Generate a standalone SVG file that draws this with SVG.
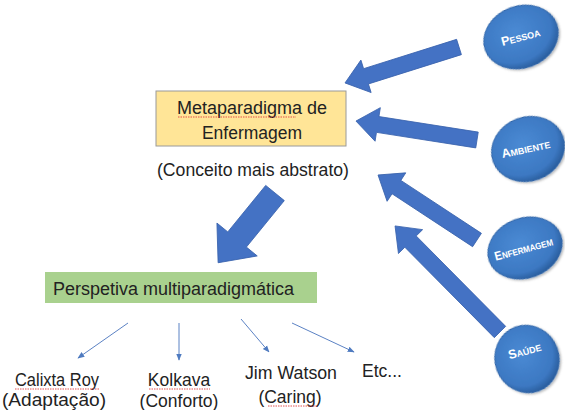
<svg xmlns="http://www.w3.org/2000/svg" width="565" height="410" viewBox="0 0 565 410">
<defs>
<radialGradient id="eg" cx="45%" cy="40%" r="60%">
<stop offset="0" stop-color="#4A8AD4"/>
<stop offset="0.8" stop-color="#3C78C2"/>
<stop offset="1" stop-color="#2A5E9E"/>
</radialGradient>
<marker id="ah" viewBox="0 0 10 10" refX="9" refY="5" markerWidth="7" markerHeight="7" orient="auto" markerUnits="userSpaceOnUse">
<path d="M0,1 L10,5 L0,9 Z" fill="#4F7BC0"/>
</marker>
<filter id="sh" x="-20%" y="-20%" width="140%" height="140%">
<feDropShadow dx="1" dy="1.5" stdDeviation="1.2" flood-color="#000" flood-opacity="0.3"/>
</filter>
</defs>
<style>
text{font-family:"Liberation Sans",Arial,sans-serif;fill:#222}
.t{font-size:17.5px}
.big{fill:#4472C4;stroke:#3A63AD;stroke-width:0.8}
.thin{stroke:#5B82C4;stroke-width:1;fill:none;marker-end:url(#ah)}
.ell{fill:url(#eg);stroke:#2E64A8;stroke-width:1;filter:url(#sh)}
.et{fill:#fff;font-weight:bold;font-size:9px}
.et tspan.c{font-size:12.5px}
.sp{stroke:#E04040;stroke-width:0.9;fill:none;stroke-dasharray:1.5 1}
</style>

<g id="connectors">
<path class="big" d="M0,-8 L97.5,-8 L97.5,-17 L119.5,0 L97.5,17 L97.5,8 L0,8Z" transform="translate(459,47) rotate(162.5)"/>
<path class="big" d="M0,-8 L100.5,-8 L100.5,-17 L122.5,0 L100.5,17 L100.5,8 L0,8Z" transform="translate(477,140) rotate(-171.1)"/>
<path class="big" d="M0,-8 L96.4,-8 L96.4,-17 L118.4,0 L96.4,17 L96.4,8 L0,8Z" transform="translate(477,240) rotate(-146.7)"/>
<path class="big" d="M0,-8 L127.2,-8 L127.2,-17 L149.2,0 L127.2,17 L127.2,8 L0,8Z" transform="translate(500,332) rotate(-134.7)"/>
<path class="big" d="M0,-12 L60,-12 L60,-26 L90,0 L60,26 L60,12 L0,12Z" transform="translate(275,193) rotate(129.2)"/>
<line class="thin" x1="128" y1="323" x2="78" y2="358"/>
<line class="thin" x1="179" y1="323" x2="179" y2="360"/>
<line class="thin" x1="241" y1="319" x2="269" y2="352"/>
<line class="thin" x1="292" y1="323" x2="354" y2="352"/>
</g>

<g id="metaparadigma">
<rect x="156" y="91" width="190" height="55" fill="#FFE597" stroke="#9A9A9A" stroke-width="1"/>
<text class="t" x="252" y="114" text-anchor="middle" textLength="150" lengthAdjust="spacingAndGlyphs">Metaparadigma de</text>
<text class="t" x="252" y="139" text-anchor="middle">Enfermagem</text>
<path class="sp" d="M178,117 L296,117"/>
</g>

<g id="conceito">
<text class="t" x="253" y="176" text-anchor="middle" textLength="192" lengthAdjust="spacingAndGlyphs">(Conceito mais abstrato)</text>
</g>

<g id="perspetiva">
<rect x="45" y="272" width="272" height="31" fill="#A9D18E"/>
<text class="t" x="53" y="295" textLength="241" lengthAdjust="spacingAndGlyphs">Perspetiva multiparadigmática</text>
</g>

<g id="calixta">
<text class="t" x="57" y="386" text-anchor="middle" textLength="84" lengthAdjust="spacingAndGlyphs">Calixta Roy</text>
<text class="t" x="54" y="406" text-anchor="middle" textLength="104" lengthAdjust="spacingAndGlyphs">(Adaptação)</text>
<path class="sp" d="M15,389 L99,389"/>
</g>

<g id="kolkava">
<text class="t" x="179" y="386" text-anchor="middle">Kolkava</text>
<text class="t" x="179" y="407" text-anchor="middle">(Conforto)</text>
<path class="sp" d="M149,389 L210,389"/>
</g>

<g id="watson">
<text class="t" x="291" y="379" text-anchor="middle" textLength="92" lengthAdjust="spacingAndGlyphs">Jim Watson</text>
<text class="t" x="290" y="403" text-anchor="middle">(Caring)</text>
<path class="sp" d="M268,406 L318,406"/>
</g>

<g id="etc">
<text class="t" x="362" y="377">Etc...</text>
</g>

<g id="pessoa">
<ellipse class="ell" cx="521" cy="37" rx="38" ry="31" transform="rotate(-20 521 37)"/>
<text class="et" x="521" y="41" text-anchor="middle" transform="rotate(-15 521 38)"><tspan class="c">P</tspan>ESSOA</text>
</g>

<g id="ambiente">
<ellipse class="ell" cx="528" cy="149" rx="37" ry="32" transform="rotate(-20 528 149)"/>
<text class="et" x="526" y="153" text-anchor="middle" transform="rotate(-12 526 150)"><tspan class="c">A</tspan>MBIENTE</text>
</g>

<g id="enfermagem">
<ellipse class="ell" cx="525" cy="248" rx="38" ry="30" transform="rotate(-20 525 248)"/>
<text class="et" x="524" y="253" text-anchor="middle" textLength="60" lengthAdjust="spacingAndGlyphs" transform="rotate(-15 524 250)"><tspan class="c">E</tspan>NFERMAGEM</text>
</g>

<g id="saude">
<ellipse class="ell" cx="527" cy="359" rx="32" ry="34" transform="rotate(-20 527 359)"/>
<text class="et" x="525" y="355" text-anchor="middle" transform="rotate(-15 525 352)"><tspan class="c">S</tspan>AÚDE</text>
</g>
</svg>
